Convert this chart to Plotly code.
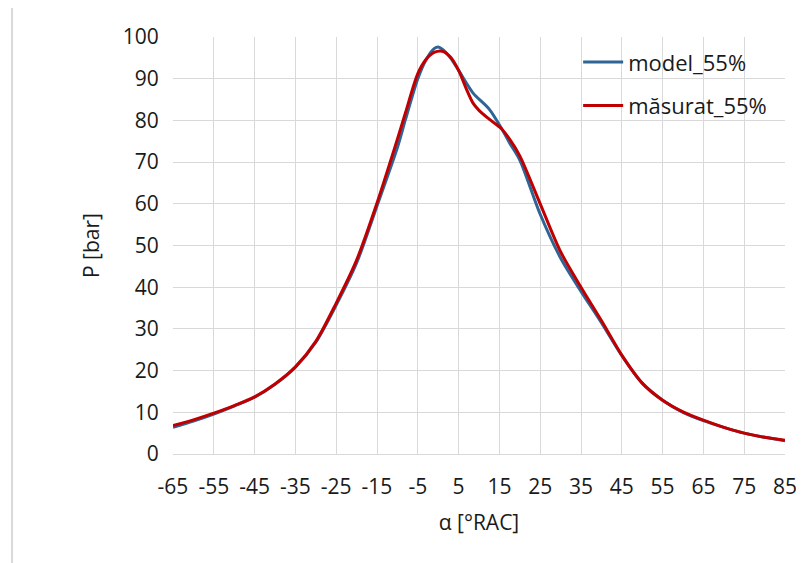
import plotly.graph_objects as go

# model_55% curve
model_x = [-65, -60, -55, -50, -45, -40, -35, -30, -25, -20, -15, -10, -8, -5, -3, -1, 0, 1, 3, 5, 8.5, 12.5, 15.5, 17.5, 20, 25, 30, 35, 40, 45, 50, 55, 60, 65, 70, 75, 80, 85]
model_y = [6.4, 7.9, 9.6, 11.5, 13.6, 16.7, 20.8, 26.8, 35.7, 45.8, 59.5, 73.5, 80.3, 90.0, 94.5, 97.2, 97.6, 97.1, 95.0, 92.0, 86.6, 82.7, 78.1, 74.6, 70.5, 57.5, 47.0, 39.0, 31.5, 23.6, 17.0, 12.9, 10.0, 8.0, 6.4, 5.0, 4.0, 3.2]

# masurat_55% curve
meas_x = [-65, -60, -55, -50, -45, -40, -35, -30, -25, -20, -15, -10, -8, -5, -3, -1, 1, 3, 5, 7, 8.5, 10, 12.5, 15.5, 17.5, 20, 25, 30, 35, 40, 45, 50, 55, 60, 65, 70, 75, 80, 85]
meas_y = [6.8, 8.2, 9.8, 11.6, 13.7, 16.8, 20.9, 27.0, 36.2, 46.5, 60.2, 75.5, 81.9, 91.2, 94.6, 96.3, 96.6, 95.2, 92.0, 87.3, 84.2, 82.4, 80.3, 78.0, 75.5, 71.5, 60.0, 48.5, 40.0, 32.0, 23.7, 17.0, 12.9, 10.1, 8.1, 6.4, 5.0, 4.0, 3.3]

x_ticks = list(range(-65, 86, 10))
y_ticks = list(range(0, 101, 10))

font_family = "Open Sans, Noto Sans, sans-serif"
grid = "#D9D9D9"

fig = go.Figure()
fig.add_trace(go.Scatter(x=model_x, y=model_y, mode="lines", name="model_55%",
                         line=dict(color="#2E6496", width=3, shape="spline", smoothing=0.8),
                         legendgroup="a"))
fig.add_trace(go.Scatter(x=meas_x, y=meas_y, mode="lines", name="măsurat_55%",
                         line=dict(color="#C00000", width=3, shape="spline", smoothing=0.8),
                         legendgroup="b"))

fig.update_layout(
    width=804, height=563,
    margin=dict(l=165, r=27, t=29, b=117),
    paper_bgcolor="white", plot_bgcolor="white",
    font=dict(family=font_family, size=21, color="#1a1a1a"),
    showlegend=True,
    legend=dict(x=0.662, y=0.99, xanchor="left", yanchor="top",
                bgcolor="rgba(0,0,0,0)", font=dict(size=22),
                tracegroupgap=12, itemwidth=40),
    xaxis=dict(range=[-65, 85], tickvals=x_ticks, ticktext=[str(v) for v in x_ticks],
               showgrid=True, gridcolor=grid, gridwidth=1, zeroline=False,
               showline=True, linecolor=grid,
               ticks="outside", ticklen=14, tickcolor="rgba(0,0,0,0)",
               title=dict(text="α [°RAC]", standoff=16, font=dict(size=21)),
               tickfont=dict(size=21)),
    yaxis=dict(range=[0, 100], tickvals=y_ticks,
               showgrid=True, gridcolor=grid, gridwidth=1, zeroline=False,
               showline=False,
               ticks="outside", ticklen=9, tickcolor="rgba(0,0,0,0)",
               title=dict(text="P [bar]", standoff=17, font=dict(size=21)),
               tickfont=dict(size=21)),
    shapes=[
        dict(type="line", xref="paper", yref="paper", x0=-0.263, x1=-0.263, y0=-0.3, y1=1.072,
             line=dict(color=grid, width=2)),
        dict(type="line", xref="paper", yref="paper", x0=-0.263, x1=1.05, y0=1.072, y1=1.072,
             line=dict(color=grid, width=2)),
    ],
)

fig.write_html("out.html")
